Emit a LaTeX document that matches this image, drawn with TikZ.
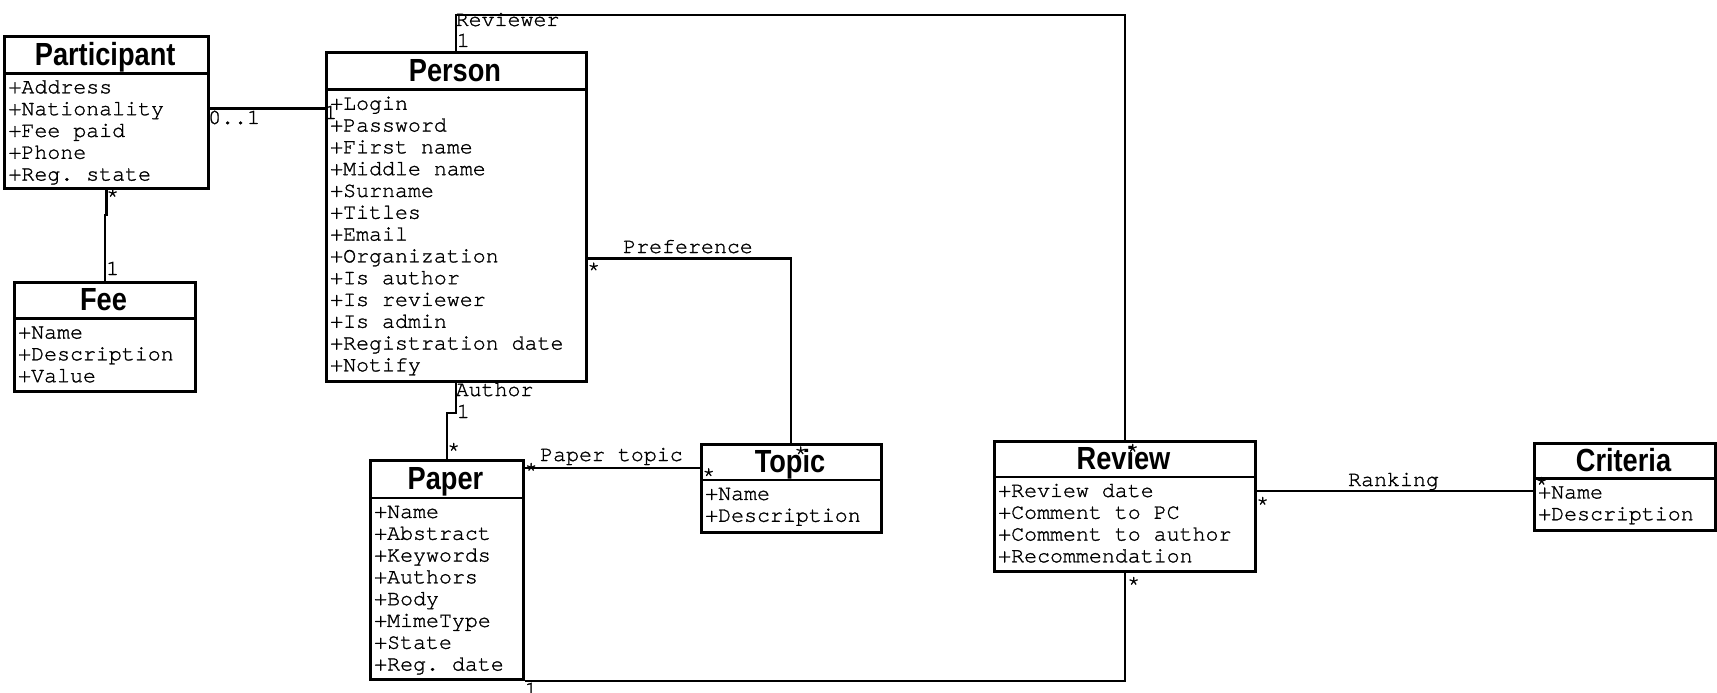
\documentclass[tikz,border=0pt]{standalone}
\usepackage{fontspec}
\setmonofont{texgyrecursor-regular.otf}[FakeBold=1.2]
\newfontfamily\titlefont{Liberation Sans}[FakeStretch=0.85]

% One UML class: name, x1, y1, x2, y2, header line y, title, attributes
\newcommand\umlclass[8]{%
  \node[cls, minimum width={#4-#2}, minimum height={#5-#3}] (#1) at (#2,#3) {};
  \coordinate (#1-hdr) at (0,#6);
  \draw[sep] (#1.west |- #1-hdr) -- (#1.east |- #1-hdr);
  \node[ttl] (#1-title) at ({(#2+#4)/2},{(#3+#6)/2+11}) {#7};
  \node[attrs] (#1-attrs) at ({#2+5},{#6+4.5}) {\strut #8};
}

\begin{document}
\begin{tikzpicture}[x=1pt,y=-1pt,
  cls/.style={draw, line width=2.6pt, inner sep=0pt, anchor=north west},
  sep/.style={line width=2.6pt},
  ttl/.style={font=\titlefont\bfseries\fontsize{32}{36}\selectfont, anchor=base, inner sep=0pt},
  attrs/.style={font=\ttfamily\fontsize{21.6}{21.8}\selectfont, align=left, anchor=north west, inner sep=0pt},
  lbl/.style={font=\ttfamily\fontsize{21.6}{21.8}\selectfont, anchor=base west, inner sep=0pt},
  assoc/.style={line width=2.2pt}]
\useasboundingbox (0,0) rectangle (1717,693);

% Classes
\umlclass{participant}{3.3}{35}{207}{187}{73.4}{Participant}
  {+Address\\+Nationality\\+Fee paid\\+Phone\\+Reg. state}
\umlclass{person}{325}{51.5}{585}{380}{89.8}{Person}
  {+Login\\+Password\\+First name\\+Middle name\\+Surname\\+Titles\\+Email\\+Organization\\+Is author\\+Is reviewer\\+Is admin\\+Registration date\\+Notify}
\umlclass{fee}{13}{281}{194}{390}{318.6}{Fee}
  {+Name\\+Description\\+Value}
\umlclass{paper}{369}{459}{522}{678}{498}{Paper}
  {+Name\\+Abstract\\+Keywords\\+Authors\\+Body\\+MimeType\\+State\\+Reg. date}
\umlclass{topic}{700}{443}{880}{531}{480}{Topic}
  {+Name\\+Description}
\umlclass{review}{993}{440}{1254}{570}{477}{Review}
  {+Review date\\+Comment to PC\\+Comment to author\\+Recommendation}
\umlclass{criteria}{1533}{442}{1714}{529}{478.5}{Criteria}
  {+Name\\+Description}

% Routing levels of the associations
\coordinate (yPP) at (0,108.4);
\coordinate (yPF) at (0,214.6);
\coordinate (yRv) at (0,15.3);
\coordinate (yPref) at (0,258.4);
\coordinate (yAu) at (0,412.8);
\coordinate (yPt) at (0,467.6);
\coordinate (yRk) at (0,490.6);

% Associations
\draw[assoc] (participant.east |- yPP) -- (person.west |- yPP);
\draw[assoc] (participant.south) -- (participant.south |- yPF) -| (fee.north);
\draw[assoc] (person.north) -- (person.north |- yRv) -| (review.north);
\draw[assoc] (person.east |- yPref) -| (topic.north);
\draw[assoc] (person.south) -- (person.south |- yAu) -| (paper.north);
\draw[assoc] (paper.east |- yPt) -- (topic.west |- yPt);
\draw[assoc] (paper.south east) -| (review.south);
\draw[assoc] (review.east |- yRk) -- (criteria.west |- yRk);

% Role names and multiplicities
\node[lbl] (m-pp1) at (208,124) {0..1};
\node[lbl] (m-pp2) at (324,119) {1};
\node[lbl] (m-pf1) at (106,202) {*};
\node[lbl] (m-pf2) at (106,275) {1};
\node[lbl] (r-rev) at (455.5,26) {Reviewer};
\node[lbl] (m-rev1) at (456.6,47) {1};
\node[lbl] (m-rev2) at (1126,457) {*};
\node[lbl] (r-pref) at (623,253) {Preference};
\node[lbl] (m-pref1) at (587,275.6) {*};
\node[lbl] (m-pref2) at (794,459.5) {*};
\node[lbl] (r-auth) at (455.5,396) {Author};
\node[lbl] (m-auth1) at (456.6,418) {1};
\node[lbl] (m-auth2) at (447,456) {*};
\node[lbl] (r-pt) at (540,461) {Paper topic};
\node[lbl] (m-pt1) at (524.5,476) {*};
\node[lbl] (m-pt2) at (702,481.4) {*};
\node[lbl] (m-pr1) at (524.5,696) {1};
\node[lbl] (m-pr2) at (1127,590) {*};
\node[lbl] (r-rank) at (1348,486) {Ranking};
\node[lbl] (m-rk1) at (1256,510) {*};
\node[lbl] (m-rk2) at (1535,490) {*};
\end{tikzpicture}
\end{document}
